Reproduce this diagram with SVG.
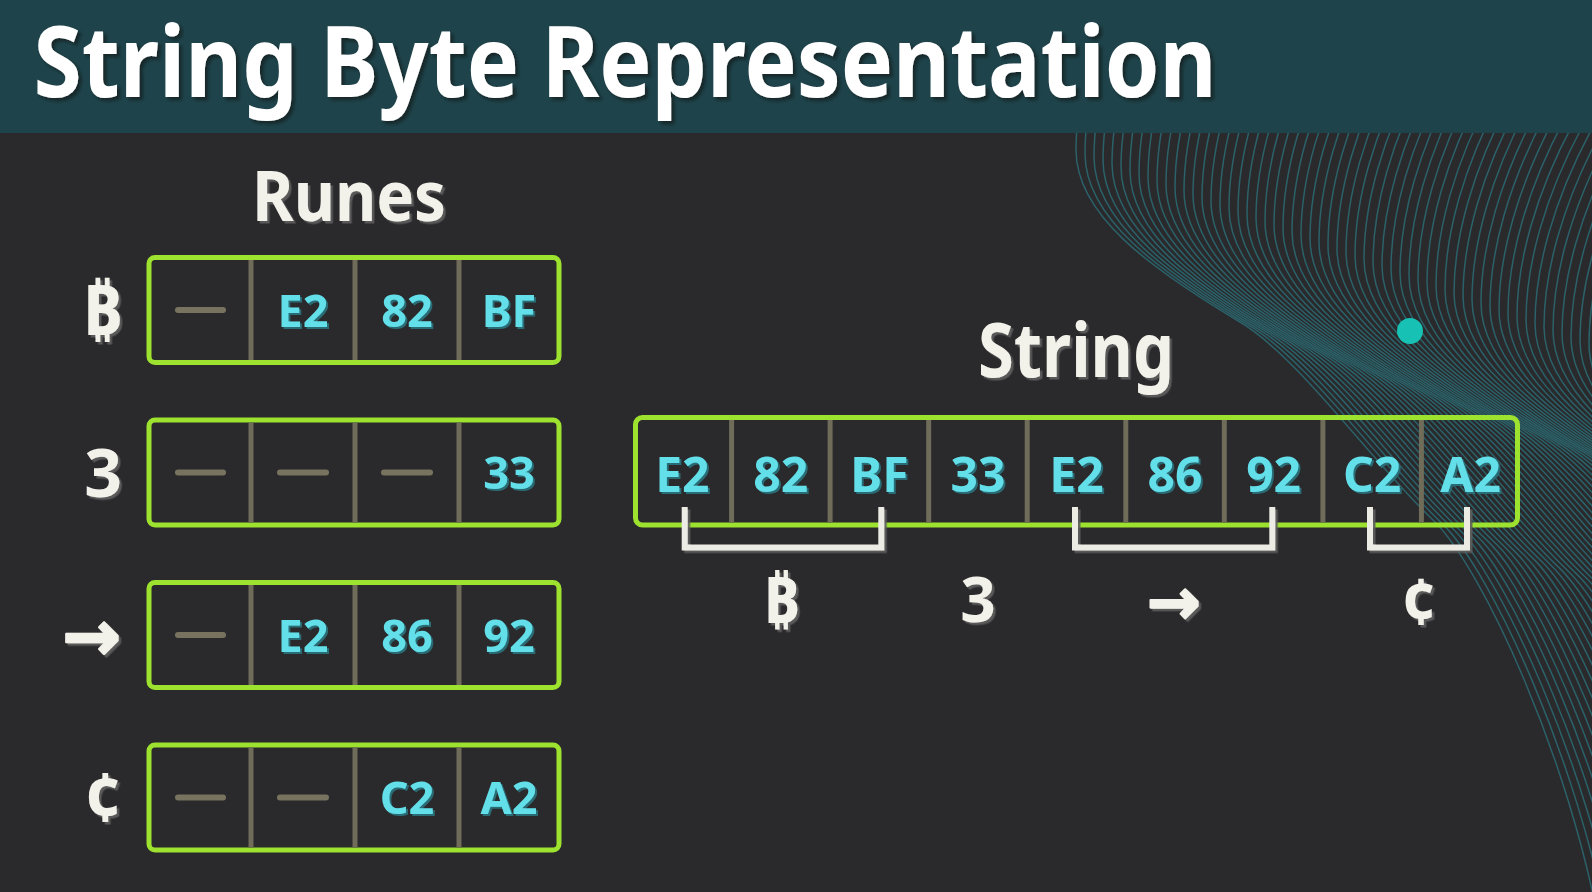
<svg xmlns="http://www.w3.org/2000/svg" xmlns:xlink="http://www.w3.org/1999/xlink" width="1592" height="892" viewBox="0 0 1592 892">
<style>
.bg{fill:#2a292c}
.hdr{fill:#1f434a}
.wave{fill:none;stroke:#2b6269;stroke-width:1.5}
.box{fill:none;stroke:#9de22f;stroke-width:5}
.div{stroke:#6f6c5a;stroke-width:5}
.dash{stroke:#77735f;stroke-width:6;stroke-linecap:round}
.hex{font-family:"Noto Sans","Open Sans",sans-serif;font-weight:700;fill:#62dfe9;text-anchor:middle;filter:url(#shHex)}
.wt{font-family:"Noto Sans","DejaVu Sans",sans-serif;font-weight:700;fill:#f2f1ea;filter:url(#shW)}
.arr{stroke:#f2f1ea;stroke-width:2.2;stroke-linejoin:round}
.title{font-family:"Noto Sans","Open Sans",sans-serif;font-weight:700;fill:#ffffff;filter:url(#shT)}
.brk{fill:none;stroke:#ecebe4;stroke-width:6;stroke-linejoin:miter;filter:url(#shW)}
</style>
<defs>
<filter id="shT" x="-5%" y="-20%" width="110%" height="150%"><feDropShadow dx="3" dy="3" stdDeviation="1.5" flood-color="#0a1a1d" flood-opacity="0.7"/></filter>
<filter id="shW" x="-20%" y="-20%" width="140%" height="140%"><feDropShadow dx="2.5" dy="2.5" stdDeviation="0.6" flood-color="#5e5e5e" flood-opacity="0.9"/></filter>
<filter id="shHex" x="-20%" y="-20%" width="140%" height="140%"><feDropShadow dx="2" dy="2" stdDeviation="0.3" flood-color="#2c6c75" flood-opacity="1"/></filter>
<path id="w" class="wave" d="M1300,-250 C1150,-120 1076,40 1076,150 C1076,215 1150,268 1240,322 C1300,358 1370,460 1433,520 C1483,568 1570,760 1600,930"/>
</defs>
<rect class="bg" x="0" y="0" width="1592" height="892"/>
<g id="background">
<use href="#w"/><use href="#w" transform="translate(9,3.4)"/><use href="#w" transform="translate(18,6.8)"/><use href="#w" transform="translate(27,10.2)"/><use href="#w" transform="translate(36,13.6)"/><use href="#w" transform="translate(45,17)"/><use href="#w" transform="translate(54,20.4)"/><use href="#w" transform="translate(63,23.8)"/><use href="#w" transform="translate(72,27.2)"/><use href="#w" transform="translate(81,30.6)"/>
<use href="#w" transform="translate(90,34)"/><use href="#w" transform="translate(99,37.4)"/><use href="#w" transform="translate(108,40.8)"/><use href="#w" transform="translate(117,44.2)"/><use href="#w" transform="translate(126,47.6)"/><use href="#w" transform="translate(135,51)"/><use href="#w" transform="translate(144,54.4)"/><use href="#w" transform="translate(153,57.8)"/><use href="#w" transform="translate(162,61.2)"/><use href="#w" transform="translate(171,64.6)"/>
<use href="#w" transform="translate(180,68)"/><use href="#w" transform="translate(189,71.4)"/><use href="#w" transform="translate(198,74.8)"/><use href="#w" transform="translate(207,78.2)"/><use href="#w" transform="translate(216,81.6)"/><use href="#w" transform="translate(225,85)"/><use href="#w" transform="translate(234,88.4)"/><use href="#w" transform="translate(243,91.8)"/><use href="#w" transform="translate(252,95.2)"/><use href="#w" transform="translate(261,98.6)"/>
<use href="#w" transform="translate(270,102)"/><use href="#w" transform="translate(279,105.4)"/><use href="#w" transform="translate(288,108.8)"/><use href="#w" transform="translate(297,112.2)"/><use href="#w" transform="translate(306,115.6)"/><use href="#w" transform="translate(315,119)"/><use href="#w" transform="translate(324,122.4)"/><use href="#w" transform="translate(333,125.8)"/><use href="#w" transform="translate(342,129.2)"/><use href="#w" transform="translate(351,132.6)"/>
<use href="#w" transform="translate(360,136)"/><use href="#w" transform="translate(369,139.4)"/><use href="#w" transform="translate(378,142.8)"/><use href="#w" transform="translate(387,146.2)"/><use href="#w" transform="translate(396,149.6)"/><use href="#w" transform="translate(405,153)"/><use href="#w" transform="translate(414,156.4)"/><use href="#w" transform="translate(423,159.8)"/><use href="#w" transform="translate(432,163.2)"/><use href="#w" transform="translate(441,166.6)"/>
<use href="#w" transform="translate(450,170)"/><use href="#w" transform="translate(459,173.4)"/><use href="#w" transform="translate(468,176.8)"/><use href="#w" transform="translate(477,180.2)"/><use href="#w" transform="translate(486,183.6)"/><use href="#w" transform="translate(495,187)"/><use href="#w" transform="translate(504,190.4)"/><use href="#w" transform="translate(513,193.8)"/><use href="#w" transform="translate(522,197.2)"/><use href="#w" transform="translate(531,200.6)"/>
<circle cx="1410" cy="331" r="13" fill="#17c2b5"/>
</g>
<g id="header">
<rect class="hdr" x="0" y="0" width="1592" height="133"/>
<text class="title" x="33.5" y="97" font-size="98" textLength="1183" lengthAdjust="spacingAndGlyphs">String Byte Representation</text>
</g>
<g id="runes-title"><text class="wt" x="349" y="221" font-size="70" text-anchor="middle" textLength="194" lengthAdjust="spacingAndGlyphs">Runes</text></g>
<g id="rune-bitcoin">
<text class="wt" x="122" y="335" font-size="70" text-anchor="end">₿</text>
<rect class="box" x="149" y="257.5" width="410" height="105" rx="6"/>
<line class="div" x1="251" y1="260" x2="251" y2="360"/><line class="div" x1="355" y1="260" x2="355" y2="360"/><line class="div" x1="459" y1="260" x2="459" y2="360"/>
<line class="dash" x1="178" y1="310" x2="223" y2="310"/>
<text class="hex" x="303" y="326.5" font-size="45">E2</text>
<text class="hex" x="407" y="326.5" font-size="45">82</text>
<text class="hex" x="509" y="326.5" font-size="45">BF</text>
</g>
<g id="rune-3">
<text class="wt" x="122" y="496.5" font-size="66" text-anchor="end">3</text>
<rect class="box" x="149" y="420" width="410" height="105" rx="6"/>
<line class="div" x1="251" y1="422.5" x2="251" y2="522.5"/><line class="div" x1="355" y1="422.5" x2="355" y2="522.5"/><line class="div" x1="459" y1="422.5" x2="459" y2="522.5"/>
<line class="dash" x1="178" y1="472.5" x2="223" y2="472.5"/>
<line class="dash" x1="280" y1="472.5" x2="326" y2="472.5"/>
<line class="dash" x1="384" y1="472.5" x2="430" y2="472.5"/>
<text class="hex" x="509" y="489" font-size="45">33</text>
</g>
<g id="rune-arrow">
<text class="wt arr" x="121" y="660" font-size="70" text-anchor="end">→</text>
<rect class="box" x="149" y="582.5" width="410" height="105" rx="6"/>
<line class="div" x1="251" y1="585" x2="251" y2="685"/><line class="div" x1="355" y1="585" x2="355" y2="685"/><line class="div" x1="459" y1="585" x2="459" y2="685"/>
<line class="dash" x1="178" y1="635" x2="223" y2="635"/>
<text class="hex" x="303" y="651.5" font-size="45">E2</text>
<text class="hex" x="407" y="651.5" font-size="45">86</text>
<text class="hex" x="509" y="651.5" font-size="45">92</text>
</g>
<g id="rune-cent">
<text class="wt" x="122" y="821.5" font-size="66" text-anchor="end">¢</text>
<rect class="box" x="149" y="745" width="410" height="105" rx="6"/>
<line class="div" x1="251" y1="747.5" x2="251" y2="847.5"/><line class="div" x1="355" y1="747.5" x2="355" y2="847.5"/><line class="div" x1="459" y1="747.5" x2="459" y2="847.5"/>
<line class="dash" x1="178" y1="797.5" x2="223" y2="797.5"/>
<line class="dash" x1="280" y1="797.5" x2="326" y2="797.5"/>
<text class="hex" x="407" y="814" font-size="45">C2</text>
<text class="hex" x="509" y="814" font-size="45">A2</text>
</g>
<g id="string-title"><text class="wt" x="1076" y="377" font-size="76" text-anchor="middle" textLength="196" lengthAdjust="spacingAndGlyphs">String</text></g>
<g id="string-box">
<rect class="box" x="635.5" y="417.5" width="882" height="107.5" rx="7"/>
<line class="div" x1="731.6" y1="420" x2="731.6" y2="522.5"/><line class="div" x1="830.1" y1="420" x2="830.1" y2="522.5"/><line class="div" x1="928.7" y1="420" x2="928.7" y2="522.5"/><line class="div" x1="1027.2" y1="420" x2="1027.2" y2="522.5"/><line class="div" x1="1125.8" y1="420" x2="1125.8" y2="522.5"/><line class="div" x1="1224.3" y1="420" x2="1224.3" y2="522.5"/><line class="div" x1="1322.9" y1="420" x2="1322.9" y2="522.5"/><line class="div" x1="1421.4" y1="420" x2="1421.4" y2="522.5"/>
<text class="hex" x="682.3" y="491.5" font-size="48">E2</text>
<text class="hex" x="780.8" y="491.5" font-size="48">82</text>
<text class="hex" x="879.4" y="491.5" font-size="48">BF</text>
<text class="hex" x="978" y="491.5" font-size="48">33</text>
<text class="hex" x="1076.5" y="491.5" font-size="48">E2</text>
<text class="hex" x="1175" y="491.5" font-size="48">86</text>
<text class="hex" x="1273.6" y="491.5" font-size="48">92</text>
<text class="hex" x="1372.1" y="491.5" font-size="48">C2</text>
<text class="hex" x="1470.7" y="491.5" font-size="48">A2</text>
</g>
<g id="connectors">
<path class="brk" d="M684.7,507 V547.5 H881.3 V507"/>
<path class="brk" d="M978,507 V551"/>
<path class="brk" d="M1075,507 V547.5 H1272.3 V507"/>
<path class="brk" d="M1370,507 V547.5 H1467 V507"/>
</g>
<g id="string-labels">
<text class="wt" x="781" y="623" font-size="64" text-anchor="middle">₿</text>
<text class="wt" x="978" y="622" font-size="62" text-anchor="middle">3</text>
<text class="wt arr" x="1173.5" y="624" font-size="64" text-anchor="middle">→</text>
<text class="wt" x="1419" y="624" font-size="62" text-anchor="middle">¢</text>
</g>
</svg>
